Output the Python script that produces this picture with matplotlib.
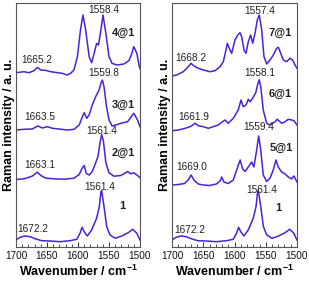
import matplotlib
matplotlib.use('Agg')
import matplotlib.pyplot as plt
from matplotlib.ticker import MultipleLocator

plt.rcParams['font.family'] = ['Liberation Sans', 'DejaVu Sans']
plt.rcParams['mathtext.fontset'] = 'custom'
plt.rcParams['mathtext.bf'] = 'Liberation Sans:bold'
plt.rcParams['mathtext.rm'] = 'Liberation Sans'

# spectra (intensity above each trace's own baseline, a. u.)
wn_1 = [1700, 1693.5, 1685.5, 1677.4, 1669.4, 1658.6, 1645, 1629, 1613, 1602, 1596.8, 1593.5, 1590, 1585,
        1578, 1570, 1565.6, 1563, 1561.8, 1558, 1553.7, 1548.4, 1540, 1529.5, 1519, 1511.8, 1505, 1500]
int_1 = [1, 3.7, 5, 4.3, 2.3, 0.3, 0, -0.7, 0.3, 1.7, 7.7, 13.7, 9.3, 5,
         11, 22.7, 34.3, 49.3, 50.3, 34.3, 14.3, 6, 2.7, 5, 8.3, 11.7, 7.7, 1]

wn_2 = [1700, 1687, 1674, 1665.6, 1660, 1652, 1639, 1622.6, 1606.5, 1598, 1593, 1590, 1586.6, 1582, 1577,
        1571.5, 1567.7, 1564.5, 1561.8, 1559, 1555, 1550, 1542, 1531, 1526, 1520, 1515, 1510, 1504, 1500]
int_2 = [0, 0.7, 3.3, 7.3, 4, 1.3, 0.7, 0.3, 1.3, 5, 11.7, 14, 6, 4.5, 8,
         16.7, 23.3, 36.7, 45, 38.3, 16.7, 6.7, 3.3, 4, 5.7, 8, 5.7, 6.7, 4, 1.7]

wn_3 = [1700, 1687, 1674, 1664.5, 1657.5, 1649.5, 1641, 1631, 1617, 1606.5, 1598, 1593, 1590, 1586, 1582,
        1577, 1571.5, 1566, 1563, 1560.7, 1558, 1554, 1550, 1545, 1539, 1531, 1520, 1514, 1510, 1504, 1500]
int_3 = [0, 0.7, 1, 4, 2, 3.3, 1.7, 1, 0, 0.7, 5, 13.3, 17.3, 11.7, 15,
         25, 33.3, 40, 46.7, 50, 43.3, 23.3, 10, 4, 5, 6.7, 8.3, 13.3, 16.7, 10, 3.3]

wn_4 = [1700, 1687, 1679, 1671, 1665.6, 1660, 1652, 1644, 1633, 1625, 1618, 1612, 1606.5, 1601, 1596, 1592,
        1587.6, 1582, 1578, 1574, 1570, 1567, 1563, 1559.7, 1555, 1550, 1545, 1537, 1526, 1518, 1514, 1510,
        1505, 1501.6, 1500]
int_4 = [0, 1, 0, 2, 5.3, 2.7, 2.3, 1, 0, -0.7, -2.3, -0.7, 2.7, 16, 42.7, 57.7,
         42.7, 16, 10, 19.3, 29.3, 27.7, 42.7, 57.7, 39.3, 16, 9.3, 7.7, 8.7, 12, 17.7, 26,
         19.3, 7.7, 4]

wn_5 = [1700, 1690, 1680, 1674, 1669.5, 1665, 1658, 1650, 1640, 1629, 1623, 1620.5, 1617, 1610, 1602, 1596.5,
        1591, 1587, 1583, 1578, 1572.5, 1569, 1564.5, 1561.3, 1558, 1554, 1548.5, 1543, 1538, 1533.6, 1530,
        1524.5, 1519, 1514, 1508.5, 1505, 1500]
int_5 = [0, 0.5, 1.5, 5, 10, 5, 1, 0, -0.5, 1, 4, 8, 3, 1.5, 5, 15,
         25, 16, 13.5, 18, 23, 18, 35, 49, 35, 10, 3.5, 7, 15, 25, 18,
         13, 11, 8, 6, 9, 3]

wn_6 = [1700, 1690, 1679, 1671, 1663, 1658, 1650, 1642, 1634, 1626, 1619, 1615, 1610, 1602, 1594, 1589.6,
        1586, 1581.6, 1578, 1575, 1571, 1566, 1563, 1560.5, 1558, 1554, 1548.5, 1543, 1535, 1531.5, 1524.5,
        1519, 1514, 1508.5, 1505, 1500]
int_6 = [0, 0.7, 2.4, 4, 7.4, 5, 4, 2.4, 4, 5.7, 9, 10.7, 7.4, 12.4, 20.7, 30.7,
         24, 25.7, 31.4, 29, 32.4, 38, 46, 51, 44, 20.7, 7.4, 5.7, 9, 11.4, 7.4,
         9, 11.4, 10.7, 10, 5.7]

wn_7 = [1700, 1692.5, 1681.9, 1673.9, 1669.6, 1664.8, 1657.9, 1649.9, 1639.2, 1631.2, 1623.2, 1617.9, 1613.6,
        1611.5, 1607.2, 1604.5, 1599.2, 1594.9, 1591.2, 1588.5, 1584.8, 1581.6, 1577.9, 1574.1, 1570.9, 1567.2,
        1563.5, 1560.3, 1556.5, 1552.8, 1548.5, 1543.2, 1537.9, 1532.5, 1529.9, 1526.1, 1521.9, 1516.5, 1511.2,
        1506.9, 1503.2, 1500]
int_7 = [0, 1, 4.3, 9.3, 12.7, 10, 7.7, 6, 4.3, 5.3, 9.3, 14.3, 26,
         32.7, 26, 22.7, 36, 41, 43.3, 39.3, 26, 22.7, 34.3, 41, 32.7, 42.7,
         56, 61, 46, 19.3, 12, 16, 21, 27.7, 28.7, 22.7, 16, 14.3, 17.7,
         16, 11, 7.7]

# stacking offsets (bottom to top) and labels
left_traces = [(wn_1, int_1, 6), (wn_2, int_2, 67.5), (wn_3, int_3, 117), (wn_4, int_4, 174.3)]
right_traces = [(wn_1, int_1, 6), (wn_5, int_5, 62), (wn_6, int_6, 116.3), (wn_7, int_7, 171)]

left_peaks = [('1672.2', 1673, 17.7), ('1561.4', 1564.5, 60.3), ('1663.1', 1662.4, 82),
              ('1561.4', 1561, 116.3), ('1663.5', 1662.4, 129.7), ('1559.8', 1559, 174.3),
              ('1665.2', 1666.6, 187), ('1558.4', 1558, 237)]
left_names = [('1', 1528, 41), ('2@1', 1527, 93.7), ('3@1', 1527, 142), ('4@1', 1527, 213.7)]

right_peaks = [('1672.2', 1672, 17), ('1561.4', 1556.5, 57), ('1669.0', 1668.5, 80.3),
               ('1559.4', 1562, 120.3), ('1661.9', 1666, 130.3), ('1558.1', 1559, 173.7),
               ('1668.2', 1670, 188.7), ('1557.4', 1559, 236.3)]
right_names = [('1', 1530, 38.7), ('5@1', 1524.5, 99), ('6@1', 1527, 153), ('7@1', 1527, 213.7)]

line_color = '#4a22d8'

fig = plt.figure(figsize=(3.09, 2.83), dpi=100)
ax1 = fig.add_axes([16 / 309, 36 / 283, 124 / 309, 244 / 283])
ax2 = fig.add_axes([172 / 309, 36 / 283, 125 / 309, 244 / 283])

for ax, traces, peaks, names in [(ax1, left_traces, left_peaks, left_names),
                                 (ax2, right_traces, right_peaks, right_names)]:
    for wn, inten, off in traces:
        ax.plot(wn, [v + off for v in inten], color=line_color, lw=1.1, solid_joinstyle='round')
    for txt, x, y in peaks:
        ax.text(x, y, txt, fontsize=7.3, color='#222222', ha='center', va='center')
    for txt, x, y in names:
        ax.text(x, y, txt, fontsize=8, fontweight='bold', color='#222222', ha='center', va='center')
    ax.set_xlim(1700, 1500)
    ax.set_ylim(0, 244)
    ax.xaxis.set_major_locator(MultipleLocator(50))
    ax.xaxis.set_minor_locator(MultipleLocator(10))
    ax.tick_params(axis='x', which='major', direction='in', length=3.5, width=0.7, labelsize=7.2,
                   pad=3, colors='#333333', labelcolor='#111111')
    ax.tick_params(axis='x', which='minor', direction='in', length=2, width=0.6, colors='#333333')
    ax.set_yticks([])
    for s in ax.spines.values():
        s.set_linewidth(0.8)
        s.set_color('#555555')
    ax.set_xlabel(r'Wavenumber / cm$^{\mathbf{-1}}$', fontsize=9, fontweight='bold', labelpad=2)
    ax.set_ylabel('Raman intensity / a. u.', fontsize=9, fontweight='bold', labelpad=1)

fig.savefig('out.png', dpi=100)
